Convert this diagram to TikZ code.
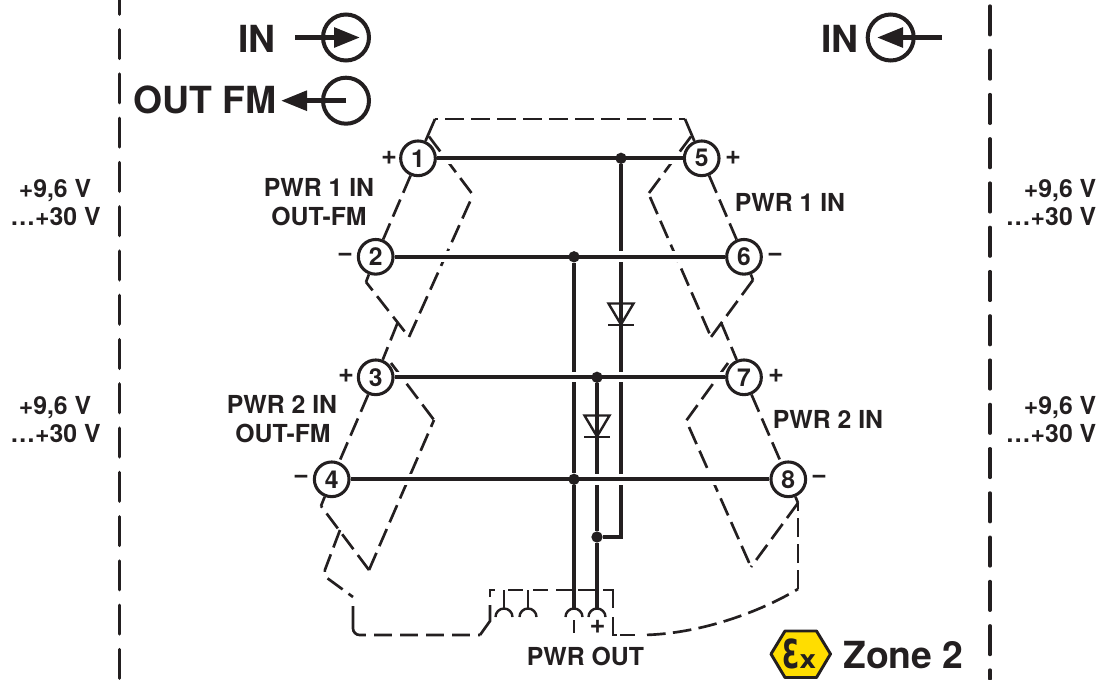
\documentclass[tikz,border=0pt]{standalone}
\usepackage{fontspec}
\setmainfont{TeX Gyre Heros}
\newfontfamily\dejavu{DejaVu Sans}
\usepackage{graphicx}
\usetikzlibrary{arrows.meta,calc}
\definecolor{ink}{HTML}{231F20}
\definecolor{exyellow}{HTML}{FFDD00}
\tikzset{
  every node/.style={text=ink},
  term/.style={circle,draw=ink,fill=white,line width=2.3pt,minimum size=26pt,inner sep=0pt,font=\fontsize{18.5}{18.5}\bfseries\selectfont},
  lab/.style={anchor=base,inner sep=0pt,font=\fontsize{18.6}{18.6}\bfseries\selectfont},
  biglab/.style={anchor=base,inner sep=0pt,font=\fontsize{28}{28}\bfseries\selectfont},
  sign/.style={inner sep=0pt,font=\fontsize{20.5}{20.5}\bfseries\selectfont},
  wire/.style={draw=ink,line width=2.8pt},
  haloed/.style={wire,preaction={draw=white,line width=8pt}},
  dsh/.style={draw=ink,line width=2pt,dash pattern=on 14pt off 5.5pt},
  thin/.style={draw=ink,line width=2pt},
  jdot/.style={circle,fill=ink,minimum size=8.5pt,inner sep=0pt},
  border/.style={draw=ink,line width=2.5pt,line cap=round,dash pattern=on 21.6pt off 11.6pt},
  iocirc/.style={circle,draw=ink,line width=3pt,minimum size=34.5pt,inner sep=0pt},
  ioline/.style={draw=ink,line width=3.6pt},
  ioarrow/.style={ioline,-{Triangle[length=19.5pt,width=14.5pt]}},
  diodeshape/.style={draw=ink,line width=1.8pt,line join=miter},
}
\begin{document}
\begin{tikzpicture}[x=0.75pt,y=-0.75pt]
\useasboundingbox (0,0) rectangle (1104,679);
% borders
\coordinate (bl0) at (119.5,0); \coordinate (bl1) at (119.5,679);
\coordinate (br0) at (990,6); \coordinate (br1) at (990,679);
\draw[border,dash phase=10.9pt] (bl0) -- (bl1);
\draw[border] (br0) -- (br1);

% terminals
\node[term] (n1) at (418,158.3) {1};
\node[term] (n2) at (375.7,256.8) {2};
\node[term] (n3) at (375.7,377.3) {3};
\node[term] (n4) at (331.7,479.3) {4};
\node[term] (n5) at (701.7,158.3) {5};
\node[term] (n6) at (744,256.8) {6};
\node[term] (n7) at (744,377.3) {7};
\node[term] (n8) at (788.3,479.3) {8};

% junction coordinates of the dashed housing lines
\coordinate (tl) at (435,119); \coordinate (tr) at (685,119);
\coordinate (t1) at (429,136.5); \coordinate (a1) at (473,195);
\coordinate (t5) at (691,136.5); \coordinate (a5) at (649,193);
\coordinate (a5b) at (650,197);
\coordinate (c2) at (366,282); \coordinate (z1) at (409,337); \coordinate (j1) at (397.5,323);
\coordinate (t3) at (391,363); \coordinate (a3) at (434,420);
\coordinate (t7) at (728,363); \coordinate (a7) at (686,421); \coordinate (a7b) at (689,427);
\coordinate (c4) at (321,506); \coordinate (z3) at (369,570); \coordinate (j3) at (340,530);
\coordinate (c6) at (753,280); \coordinate (z5) at (711,337); \coordinate (j5) at (721.3,323);
\coordinate (c8) at (798,503); \coordinate (z8) at (751,567); \coordinate (k8) at (798,589);
\coordinate (k1) at (323,575); \coordinate (k2) at (353,597);
\coordinate (k3) at (353,606); \coordinate (k4) at (353,635); \coordinate (k5) at (480,635);
\coordinate (k6) at (490,621);

% dashed lines
\draw[thin] (n1) -- (tl);
\draw[thin] (n5) -- (tr);
\draw[dsh,dash phase=12pt] (tl) -- (tr);
\draw[dsh] (n1) -- (n2);
\draw[dsh] (n3) -- (n4);
\draw[dsh] (n5) -- (n6);
\draw[dsh] (n7) -- (n8);
\draw[dsh] (t1) -- (a1);
\draw[dsh] (t5) -- (a5);
\draw[dsh] (t3) -- (a3);
\draw[dsh] (t7) -- (a7);
\draw[dsh] (z1) -- (a1);
\draw[dsh] (z3) -- (a3);
\draw[dsh] (a5b) -- (z5);
\draw[dsh] (a7b) -- (z8);
\draw[thin] (n2) -- (c2);
\draw[dsh,dash phase=6pt] (c2) -- (z1);
\draw[dsh] (j1) -- (n3);
\draw[thin] (n4) -- (c4);
\draw[dsh] (z3) -- (c4);
\draw[thin] (n6) -- (c6);
\draw[dsh] (c6) -- (z5);
\draw[dsh] (j5) -- (n7);
\draw[thin] (n8) -- (c8);
\draw[dsh] (c8) -- (z8);
\draw[dsh] (k8) -- (c8);
\draw[dsh,rounded corners=4pt] (j3) -- (k1) -- (k2);
\draw[thin,rounded corners=5pt] (k3) -- (k4) -- (k5);
\draw[draw=white,line width=3pt,dash pattern=on 6pt off 13.5pt,dash phase=-23pt] (k4) ++(8,0) -- (k5);
\draw[thin] (k5) -- (k6) -- (490,605);
\draw[thin] (490,597) |- (495,590);
\draw[thin] (508,590) -- (523,590) (533,590) -- (548,590) (556,590) -- (572,590) (578,590) -- (595,590);
\draw[thin] (603,590) -| (613,608);
\draw[thin] (613,617) -- (613,635) -- (617,635);
\draw[thin] (620,635) -- (635,635);
\draw[dsh,dash phase=-3pt] (643,635) .. controls (700,634) and (760,612) .. (k8);

% horizontal rails
\draw[haloed] (n1) -- (n5);
\draw[haloed] (n2) -- (n6);
\draw[haloed] (n3) -- (n7);
\draw[haloed] (n4) -- (n8);

% junctions
\node[jdot] (d1) at (621,158.3) {};
\node[jdot] (d2) at (574,256.8) {};
\node[jdot] (d3) at (597,377.3) {};
\node[jdot] (d4) at (574,479.3) {};
\node[jdot] (d5) at (597,537) {};

% vertical wires with crossing gaps
\coordinate (c1a) at (621,251); \coordinate (c1b) at (621,262);
\coordinate (c1c) at (621,372); \coordinate (c1d) at (621,382);
\coordinate (c1e) at (621,474); \coordinate (c1f) at (621,485);
\coordinate (c1g) at (621,537);
\draw[wire] (d1) -- (c1a);
\draw[wire] (c1b) -- (c1c);
\draw[wire] (c1d) -- (c1e);
\draw[wire] (c1f) -- (c1g) -- (d5);
\coordinate (c2a) at (574,372); \coordinate (c2b) at (574,382); \coordinate (c2c) at (574,608.5);
\draw[wire] (d2) -- (c2a);
\draw[wire] (c2b) -- (d4) -- (c2c);
\coordinate (c3a) at (597,474); \coordinate (c3b) at (597,485); \coordinate (c3c) at (597,608.5);
\draw[wire] (d3) -- (c3a);
\draw[wire] (c3b) -- (d5) -- (c3c);

% diodes
\draw[diodeshape] (608.5,303.5) -- (633.5,303.5) -- (621,324.5) -- cycle;
\draw[diodeshape] (608,325) -- (634,325);
\draw[diodeshape] (584.5,415.5) -- (609.5,415.5) -- (597,436.5) -- cycle;
\draw[diodeshape] (584,437) -- (610,437);

% contact cups
\foreach \cx in {504,528,574,597}{
  \draw[diodeshape] (\cx-8.5,617) arc[start angle=180,end angle=360,radius=8.5];
}
\draw[diodeshape] (504,590) -- (504,608.5);
\draw[diodeshape] (528,590) -- (528,608.5);
\draw[thin] (574,620) -- (574,632.5);

% IO symbols
\node[iocirc] (io1) at (346,37.5) {};
\coordinate (io1s) at (295,37.5); \coordinate (io1e) at (360,37.5);
\draw[ioarrow] (io1s) -- (io1e);
\node[iocirc] (io2) at (346,100.7) {};
\coordinate (io2s) at (346,100.7); \coordinate (io2e) at (281,100.7);
\draw[ioarrow] (io2s) -- (io2e);
\node[iocirc] (io3) at (890.7,37.5) {};
\coordinate (io3s) at (942,37.5); \coordinate (io3e) at (877,37.5);
\draw[ioarrow] (io3s) -- (io3e);

% signs
\node[sign] (s1) at (389,158) {+};
\node[sign] (s2) at (345,257) {−};
\node[sign] (s3) at (346,376) {+};
\node[sign] (s4) at (301,479) {−};
\node[sign] (s5) at (733,158) {+};
\node[sign] (s6) at (775,257) {−};
\node[sign] (s7) at (776,376) {+};
\node[sign] (s8) at (819,479) {−};
\node[sign] (s9) at (597.5,627) {+};

% labels
\node[biglab] (tin1) at (257,52.5) {IN};
\node[biglab] (tout) at (205,113.5) {OUT FM};
\node[biglab] (tin2) at (840,52.5) {IN};
\node[lab] (l1) at (319,196) {PWR 1 IN};
\node[lab] (l2) at (319,225) {OUT-FM};
\node[lab] (l3) at (790,211) {PWR 1 IN};
\node[lab] (l4) at (282,413) {PWR 2 IN};
\node[lab] (l5) at (283,442) {OUT-FM};
\node[lab] (l6) at (828,428) {PWR 2 IN};
\node[lab] (l7) at (585.5,665) {PWR OUT};
\node[lab] (v1) at (55,197) {+9,6 V};
\node[lab] (v2) at (55.5,225) {…+30 V};
\node[lab] (v3) at (55,414) {+9,6 V};
\node[lab] (v4) at (55.5,442) {…+30 V};
\node[lab,anchor=base east] (v5) at (1096.5,197) {+9,6 V};
\node[lab,anchor=base east] (v6) at (1096.5,225) {…+30 V};
\node[lab,anchor=base east] (v7) at (1096.5,414) {+9,6 V};
\node[lab,anchor=base east] (v8) at (1096.5,442) {…+30 V};

% Ex mark
\draw[draw=ink,fill=exyellow,line width=2.2pt,line join=round]
  (771,654) -- (785,631) -- (816.5,631) -- (830.5,654) -- (816.5,677.5) -- (785,677.5) -- cycle;
\node[anchor=base west,inner sep=0pt] (ex) at (782,668.5) {\dejavu\bfseries\fontsize{30}{30}\selectfont\scalebox{0.62}[1]{Ɛ}\fontsize{19}{19}\selectfont x};
\node[biglab,anchor=base west] (zone) at (843,668) {Zone 2};
\end{tikzpicture}
\end{document}
